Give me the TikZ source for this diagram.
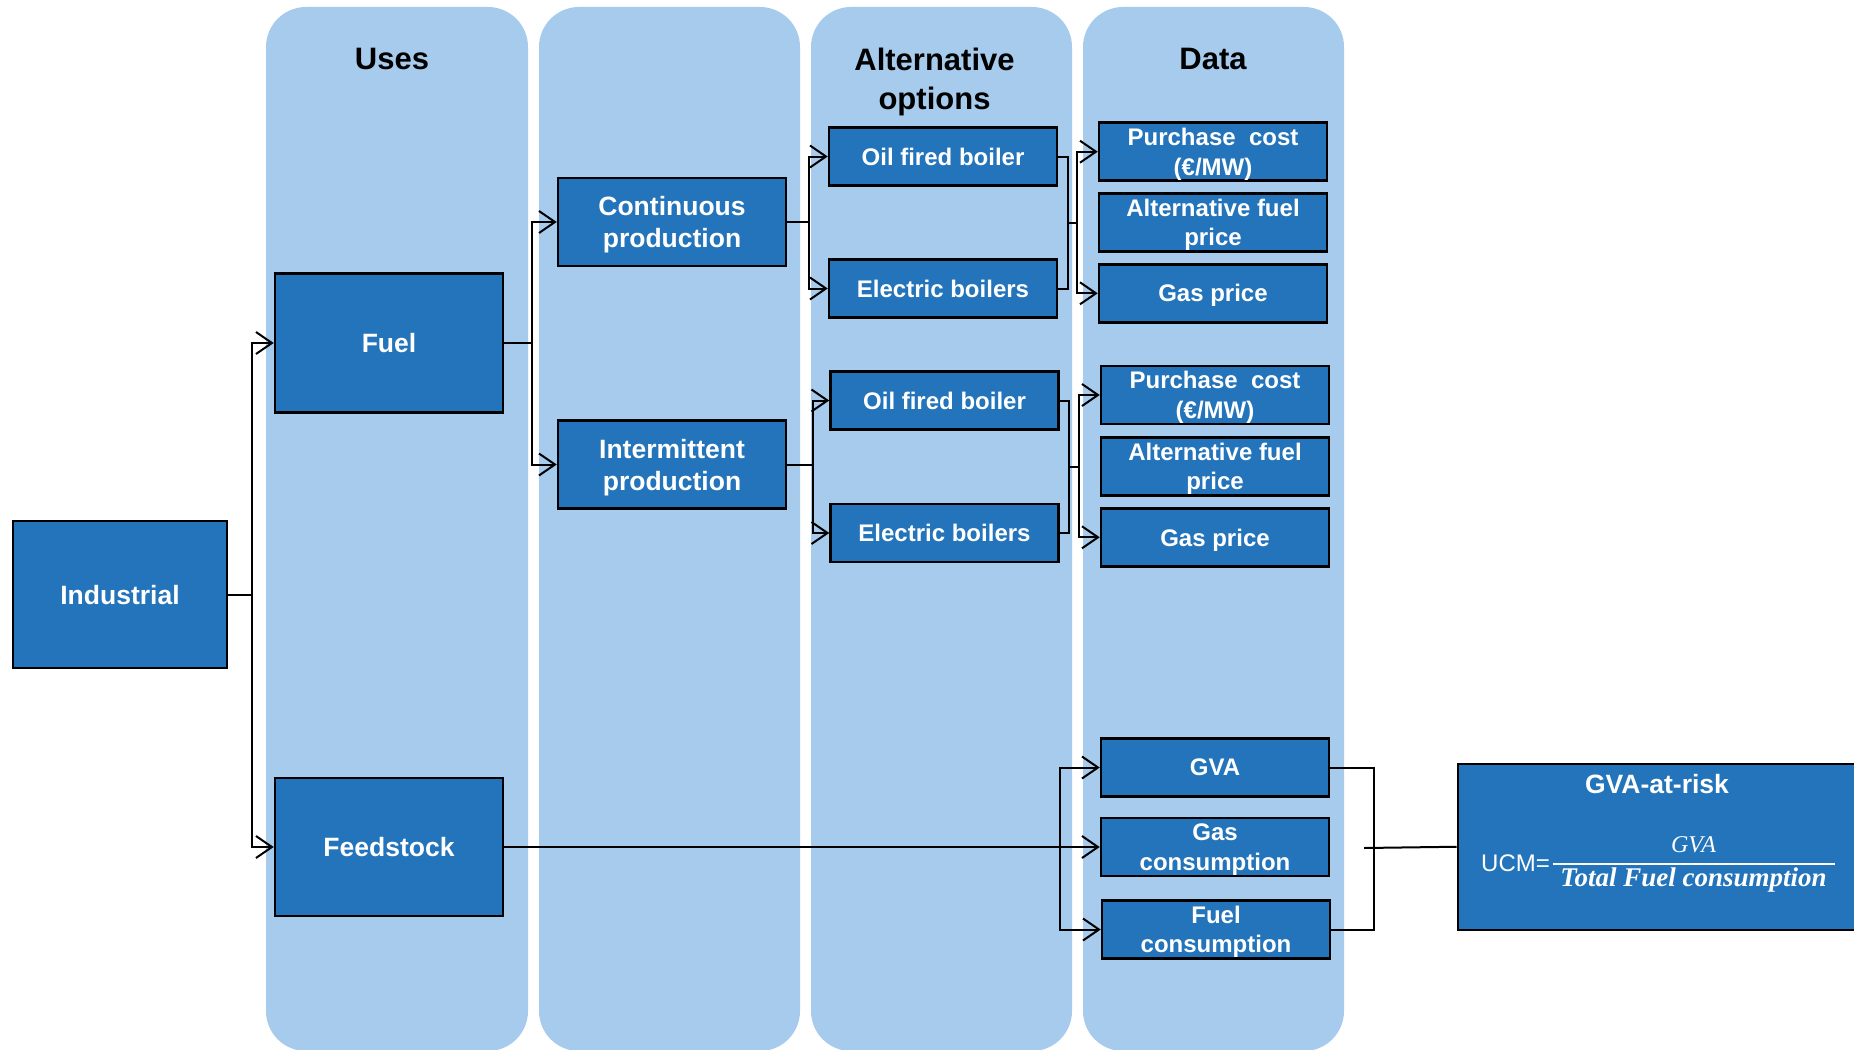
\documentclass[tikz,border=0pt]{standalone}
\usepackage{fontspec}
\setmainfont{Liberation Sans}
\newfontfamily\serifface{Liberation Serif}
\usetikzlibrary{arrows.meta,calc}
\definecolor{boxblue}{RGB}{35,116,186}
\definecolor{colblue}{RGB}{166,203,236}
\begin{document}
\begin{tikzpicture}[x=1pt,y=-1pt,
  box/.style={draw=black, line width=2.5pt, fill=boxblue, text=white, align=center, inner sep=0pt, text depth=0pt},
  big/.style={box, font=\bfseries\fontsize{26.5}{32}\selectfont},
  small/.style={box, font=\bfseries\fontsize{24}{29.5}\selectfont, minimum width=228pt, minimum height=58pt},
  head/.style={font=\bfseries\fontsize{31}{39}\selectfont, align=center, anchor=base},
  conn/.style={line width=2pt},
  arr/.style={conn, -{Straight Barb[length=16pt,width=22pt]}},
  column/.style={fill=colblue, rounded corners=40pt},
]
\useasboundingbox (0,0) rectangle (1854,1049);
\clip (0,0) rectangle (1854,1049);

% columns
\fill[column] (266,7) rectangle (528,1051);
\fill[column] (539,7) rectangle (800,1051);
\fill[column] (811,7) rectangle (1072,1051);
\fill[column] (1083,7) rectangle (1344,1051);

% headings
\node[head] (h1) at (392,70) {Uses};
\node[head] (h3) at (934.5,109) {Alternative\\ options};
\node[head] (h4) at (1213,70) {Data};

% main boxes
\node[big, minimum width=214pt, minimum height=147pt] (ind) at (120,594.5) {Industrial};
\node[big, minimum width=228pt, minimum height=139pt] (fuel) at (389,343) {Fuel};
\node[big, minimum width=228pt, minimum height=138pt] (feed) at (389,847) {Feedstock};
\node[big, minimum width=228pt, minimum height=88pt] (cont) at (672,222) {Continuous\\ production};
\node[big, minimum width=228pt, minimum height=88pt] (inter) at (672,464.5) {Intermittent\\ production};

% alternative options
\node[small] (oil1) at (943,156.5) {Oil fired boiler};
\node[small] (ele1) at (943,288.5) {Electric boilers};
\node[small] (oil2) at (944.5,400.5) {Oil fired boiler};
\node[small] (ele2) at (944.5,533) {Electric boilers};

% data
\node[small] (pur1) at (1213,151.7) {Purchase\ \ cost\\ (€/MW)};
\node[small] (alt1) at (1213,222.5) {Alternative fuel\\ price};
\node[small] (gas1) at (1213,293.3) {Gas price};
\node[small] (pur2) at (1215,395) {Purchase\ \ cost\\ (€/MW)};
\node[small] (alt2) at (1215,466.5) {Alternative fuel\\ price};
\node[small] (gas2) at (1215,537.3) {Gas price};
\node[small] (gva) at (1215,767.5) {GVA};
\node[small] (gcons) at (1215,847) {Gas\\ consumption};
\node[small] (fcons) at (1216,929.5) {Fuel\\ consumption};

% GVA-at-risk
\node[box, minimum width=404pt, minimum height=166pt, anchor=north west] (risk) at (1456.5,762.5) {};
\node[font=\bfseries\fontsize{26.5}{30}\selectfont, text=white, anchor=base] (risktitle) at (1657,793) {GVA-at-risk};
\node[font=\fontsize{24}{28}\selectfont, text=white, anchor=base] (ucm) at (1515.5,871) {UCM=};
\node[font=\serifface\itshape\fontsize{24}{28}\selectfont, text=white, anchor=base] (num) at (1693.5,852) {GVA};
\draw[white, line width=2pt] (1552.6,864) -- (1834.6,864);
\node[font=\serifface\bfseries\itshape\fontsize{27}{30}\selectfont, text=white, anchor=base] (den) at (1693.5,886) {Total Fuel consumption};

% connectors
\coordinate (j1) at ($(ind.east)+(24,0)$);
\draw[conn] (ind.east) -- (j1);
\draw[arr] (j1) |- (fuel.west);
\draw[arr] (j1) |- (feed.west);

\coordinate (j2) at ($(fuel.east)+(28,0)$);
\draw[conn] (fuel.east) -- (j2);
\draw[arr] (j2) |- (cont.west);
\draw[arr] (j2) |- (inter.west);

\coordinate (j3) at ($(cont.east)+(22,0)$);
\draw[conn] (cont.east) -- (j3);
\draw[arr] (j3) |- (oil1.west);
\draw[arr] (j3) |- (ele1.west);

\coordinate (j4) at ($(inter.east)+(26,0)$);
\draw[conn] (inter.east) -- (j4);
\draw[arr] (j4) |- (oil2.west);
\draw[arr] (j4) |- (ele2.west);

\draw[conn] (oil1.east) -- ++(10,0) |- (ele1.east);
\coordinate (b1) at ($(oil1.east)!0.5!(ele1.east)+(10,0)$);
\coordinate (s1) at ($(b1)+(9,0)$);
\draw[conn] (b1) -- (s1);
\draw[arr] (s1) |- (pur1.west);
\draw[arr] (s1) |- (gas1.west);

\draw[conn] (oil2.east) -- ++(9,0) |- (ele2.east);
\coordinate (b2) at ($(oil2.east)!0.5!(ele2.east)+(9,0)$);
\coordinate (s2) at ($(b2)+(10.5,0)$);
\draw[conn] (b2) -- (s2);
\draw[arr] (s2) |- (pur2.west);
\draw[arr] (s2) |- (gas2.west);

\draw[arr] (feed.east) -- (gcons.west);
\coordinate (v) at ($(gcons.west)+(-40,0)$);
\draw[arr] (v) |- (gva.west);
\draw[arr] (v) |- (fcons.west);

\draw[conn] (gva.east) -- ++(44,0) |- (fcons.east);
\coordinate (rb) at (1364,848);
\draw[conn] (rb) -- (risk.west);
\end{tikzpicture}
\end{document}
